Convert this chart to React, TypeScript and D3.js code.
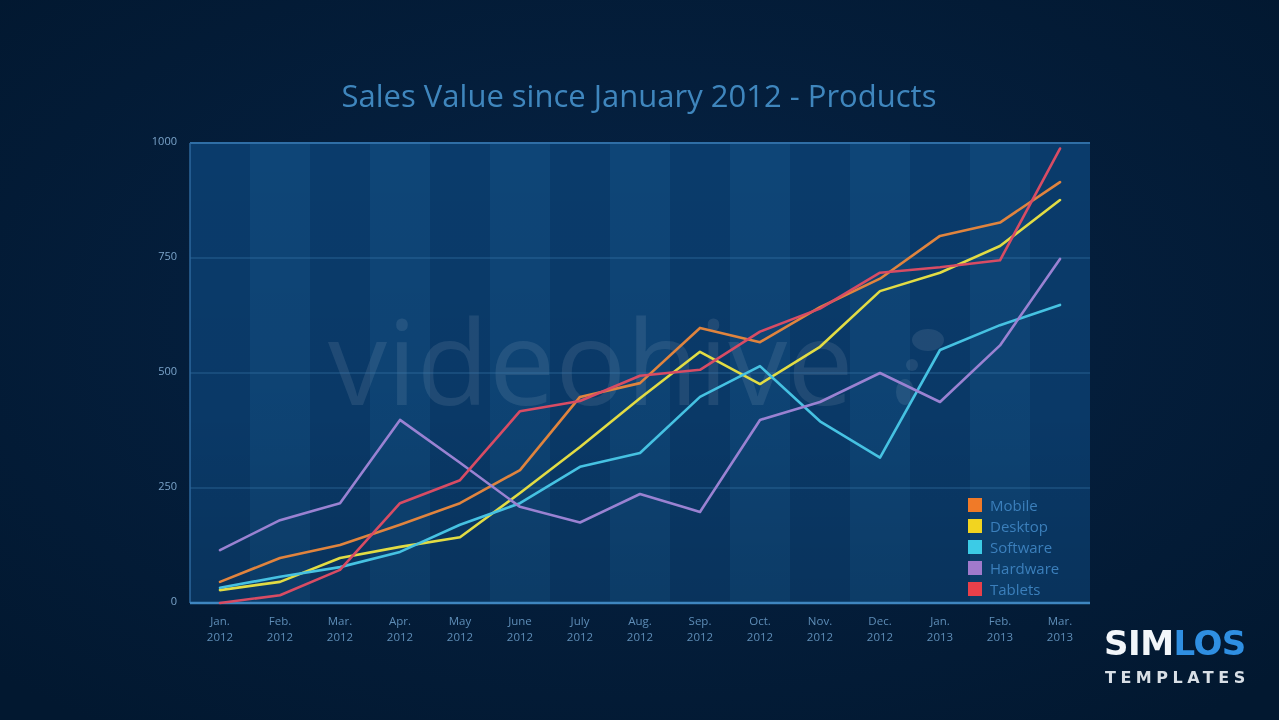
import React from "react";
import * as d3 from "d3";

const months = ["Jan.", "Feb.", "Mar.", "Apr.", "May", "June", "July", "Aug.", "Sep.", "Oct.", "Nov.", "Dec.", "Jan.", "Feb.", "Mar."];
const years = ["2012", "2012", "2012", "2012", "2012", "2012", "2012", "2012", "2012", "2012", "2012", "2012", "2013", "2013", "2013"];
const yTicks = [0, 250, 500, 750, 1000];

const mobile = [46, 98, 126, 170, 217, 289, 448, 478, 598, 567, 643, 705, 798, 827, 915];
const desktop = [28, 46, 98, 122, 143, 239, 339, 445, 546, 476, 557, 678, 718, 776, 876];
const software = [33, 57, 78, 111, 170, 217, 296, 326, 448, 515, 395, 316, 550, 604, 648];
const hardware = [115, 180, 217, 398, 305, 209, 175, 237, 198, 398, 437, 500, 437, 560, 748];
const tablets = [0, 17, 72, 217, 267, 417, 439, 494, 507, 590, 640, 718, 730, 745, 988];

const seriesNames = ["Mobile", "Desktop", "Software", "Hardware", "Tablets"];
const seriesValues = [mobile, desktop, software, hardware, tablets];
const lineColors = ["#e0843e", "#e2dc44", "#46c2e2", "#9a82d2", "#d84c64"];
const legendColors = ["#f07a28", "#f2d420", "#3ccbe6", "#a07acc", "#e8404a"];

const W = 1279;
const H = 720;
const plot = { left: 190, right: 1090, top: 143, bottom: 603 };

export default function App() {
  const keys = months.map((m, i) => `${m} ${years[i]} ${i}`);
  const x = d3.scaleBand<string>().domain(keys).range([plot.left, plot.right]).padding(0);
  const y = d3.scaleLinear().domain([0, 1000]).range([plot.bottom, plot.top]);
  const cx = (i: number) => (x(keys[i]) as number) + x.bandwidth() / 2;
  const line = d3
    .line<number>()
    .x((_, i) => cx(i))
    .y((v) => y(v));

  const font = "'Open Sans', 'Noto Sans', sans-serif";

  return (
    <div style={{ position: "fixed", left: 0, top: 0, width: W, height: H }}>
      <svg width={W} height={H} viewBox={`0 0 ${W} ${H}`} style={{ display: "block" }}>
        <defs>
          <radialGradient id="bg" cx="50%" cy="45%" r="70%">
            <stop offset="0%" stopColor="#062447" />
            <stop offset="100%" stopColor="#021830" />
          </radialGradient>
          <linearGradient id="shade" x1="0" y1="0" x2="0" y2="1">
            <stop offset="0%" stopColor="#000000" stopOpacity={0} />
            <stop offset="60%" stopColor="#000000" stopOpacity={0.04} />
            <stop offset="100%" stopColor="#000000" stopOpacity={0.14} />
          </linearGradient>
        </defs>
        <rect x={0} y={0} width={W} height={H} fill="url(#bg)" />

        <text
          x={639}
          y={107}
          textAnchor="middle"
          fontFamily={font}
          fontSize={31}
          fill="#3f86bd"
        >
          Sales Value since January 2012 - Products
        </text>

        {/* column stripes */}
        {keys.map((k, i) => (
          <rect
            key={k}
            x={x(k) as number}
            y={plot.top}
            width={x.bandwidth()}
            height={plot.bottom - plot.top}
            fill={i % 2 === 0 ? "#0a3b6b" : "#0e4577"}
          />
        ))}
        <rect
          x={plot.left}
          y={plot.top}
          width={plot.right - plot.left}
          height={plot.bottom - plot.top}
          fill="url(#shade)"
        />

        {/* watermark */}
        <text
          x={328}
          y={405}
          fontFamily={font}
          fontSize={118}
          fill="#ffffff"
          fillOpacity={0.09}
        >
          videohive
        </text>
        <g fill="#ffffff" fillOpacity={0.09}>
          <ellipse cx={928} cy={340} rx={16} ry={11} />
          <ellipse cx={905} cy={392} rx={9} ry={13} />
          <ellipse cx={912} cy={365} rx={6} ry={6} />
        </g>

        {/* grid lines */}
        {yTicks.filter((t) => t > 0 && t < 1000).map((t) => (
          <line
            key={t}
            x1={plot.left}
            x2={plot.right}
            y1={y(t)}
            y2={y(t)}
            stroke="#3f7fb5"
            strokeOpacity={0.55}
            strokeWidth={1.2}
          />
        ))}
        <line x1={plot.left} x2={plot.right} y1={y(1000)} y2={y(1000)} stroke="#2f6ea6" strokeWidth={2} />
        <line x1={plot.left} x2={plot.left} y1={plot.top} y2={plot.bottom} stroke="#2c679c" strokeWidth={1.5} />
        <line x1={plot.left} x2={plot.right} y1={y(0)} y2={y(0)} stroke="#3f86c0" strokeWidth={2.5} />

        {/* y labels */}
        {yTicks.map((t) => (
          <text
            key={t}
            x={177}
            y={y(t) + 2}
            textAnchor="end"
            fontFamily={font}
            fontSize={11}
            fill="#7aa3c9"
          >
            {t}
          </text>
        ))}

        {/* x labels */}
        {keys.map((k, i) => (
          <g key={k}>
            <text
              x={cx(i)}
              y={625}
              textAnchor="middle"
              fontFamily={font}
              fontSize={11.5}
              fill="#5e8db7"
            >
              {months[i]}
            </text>
            <text
              x={cx(i)}
              y={641}
              textAnchor="middle"
              fontFamily={font}
              fontSize={11.5}
              fill="#5e8db7"
            >
              {years[i]}
            </text>
          </g>
        ))}

        {/* lines */}
        {seriesValues.map((vals, s) => (
          <path
            key={seriesNames[s]}
            d={line(vals) as string}
            fill="none"
            stroke={lineColors[s]}
            strokeWidth={2.6}
            strokeLinejoin="round"
            strokeLinecap="round"
          />
        ))}

        {/* legend */}
        {seriesNames.map((n, i) => (
          <g key={n} transform={`translate(968, ${498 + i * 21})`}>
            <rect x={0} y={0} width={14} height={14} fill={legendColors[i]} />
            <text x={22} y={12.5} fontFamily={font} fontSize={15} fill="#3b7fbb">
              {n}
            </text>
          </g>
        ))}

        {/* logo */}
        <text
          x={1104}
          y={655}
          fontFamily="'DejaVu Sans', sans-serif"
          fontSize={34}
          fontWeight="bold"
          letterSpacing={-0.5}
        >
          <tspan fill="#f2f6fa">SIM</tspan>
          <tspan fill="#2f8fe2">LOS</tspan>
        </text>
        <text
          x={1105}
          y={683}
          fontFamily="'DejaVu Sans', sans-serif"
          fontSize={16}
          fontWeight="bold"
          letterSpacing={4.5}
          fill="#d8dfe6"
        >
          TEMPLATES
        </text>
      </svg>
    </div>
  );
}
